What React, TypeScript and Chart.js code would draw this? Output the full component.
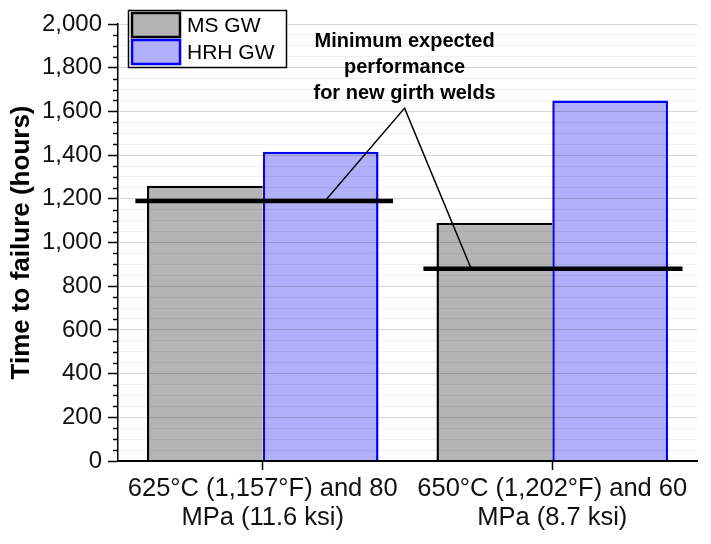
import { Chart, registerables } from "chart.js"
import React, { useEffect, useRef } from "react"

Chart.register(...registerables)

const categories = [
  ["625°C (1,157°F) and 80", "MPa (11.6 ksi)"],
  ["650°C (1,202°F) and 60", "MPa (8.7 ksi)"],
]
const msGW = [1260, 1090]
const hrhGW = [1415, 1650]
// minimum expected performance per condition, x extent in category index units
const minExpected = [1190, 880]
const minSpan = [
  [-0.44, 0.45],
  [0.555, 1.45],
]
// leader lines: first touch point, note apex, second touch point
const leaderX = [0.215, 0.49, 0.72]
const leaderY = [1190, 1615, 880]
const noteLines = ["Minimum expected", "performance", "for new girth welds"]
const legendLabels = ["MS GW", "HRH GW"]

const GREY = "#b4b4b4"
const LAVENDER = "#b0b0fb"
const BLUE = "#0000ff"
const FONT = "'Liberation Sans', Arial, sans-serif"

const overlays = {
  id: "overlays",
  afterDatasetsDraw(chart: Chart) {
    const ctx = chart.ctx
    const x = chart.scales.x
    const y = chart.scales.y
    ctx.save()
    ctx.strokeStyle = "#000"
    ctx.lineCap = "butt"

    // minimum expected performance lines
    ctx.lineWidth = 4.5
    minExpected.forEach((v, i) => {
      const py = y.getPixelForValue(v)
      ctx.beginPath()
      ctx.moveTo(x.getPixelForValue(minSpan[i][0]), py)
      ctx.lineTo(x.getPixelForValue(minSpan[i][1]), py)
      ctx.stroke()
    })

    // leader lines
    ctx.lineWidth = 1.5
    ctx.beginPath()
    leaderX.forEach((lx, i) => {
      const px = x.getPixelForValue(lx)
      const py = y.getPixelForValue(leaderY[i])
      if (i === 0) ctx.moveTo(px, py)
      else ctx.lineTo(px, py)
    })
    ctx.stroke()
    ctx.restore()
  },
  afterDraw(chart: Chart) {
    const ctx = chart.ctx
    const x = chart.scales.x
    const y = chart.scales.y
    const area = chart.chartArea
    ctx.save()

    // minor ticks on the y axis
    ctx.strokeStyle = "#000"
    ctx.lineWidth = 1.5
    for (let v = 50; v < 2000; v += 50) {
      if (v % 200 === 0) continue
      const py = Math.round(y.getPixelForValue(v)) + 0.5
      ctx.beginPath()
      ctx.moveTo(area.left - 5, py)
      ctx.lineTo(area.left, py)
      ctx.stroke()
    }

    // note text above the leader apex
    const ax = x.getPixelForValue(leaderX[1])
    const ay = y.getPixelForValue(leaderY[1])
    ctx.fillStyle = "#000"
    ctx.font = `bold 20px ${FONT}`
    ctx.textAlign = "center"
    ctx.textBaseline = "middle"
    noteLines.forEach((t, i) => {
      ctx.fillText(t, ax, ay - 15 - (noteLines.length - 1 - i) * 26)
    })

    // legend box
    ctx.fillStyle = "#fff"
    ctx.fillRect(128, 10, 159, 58)
    ctx.strokeStyle = "#000"
    ctx.lineWidth = 1.5
    ctx.strokeRect(128.5, 10.5, 158, 57)
    const sw = [
      { fill: GREY, stroke: "#000", y: 13 },
      { fill: LAVENDER, stroke: BLUE, y: 40 },
    ]
    sw.forEach((s, i) => {
      ctx.fillStyle = s.fill
      ctx.fillRect(132, s.y, 48, 24)
      ctx.strokeStyle = s.stroke
      ctx.lineWidth = 2.5
      ctx.strokeRect(132, s.y, 48, 24)
      ctx.fillStyle = "#000"
      ctx.font = `21px ${FONT}`
      ctx.textAlign = "left"
      ctx.textBaseline = "middle"
      ctx.fillText(legendLabels[i], 187, s.y + 13)
    })
    ctx.restore()
  },
}

const App: React.FC = () => {
  const chartRef = useRef<HTMLCanvasElement>(null)
  const chartInstanceRef = useRef<Chart | null>(null)

  useEffect(() => {
    const ctx = chartRef.current?.getContext("2d")
    if (!ctx) return

    chartInstanceRef.current = new Chart(ctx, {
      type: "bar",
      data: {
        labels: categories,
        datasets: [
          {
            label: legendLabels[0],
            data: msGW,
            backgroundColor: GREY,
            borderColor: "#000",
            borderWidth: { left: 2.5, top: 2.5, right: 0, bottom: 0 },
            borderSkipped: false,
            categoryPercentage: 0.8,
            barPercentage: 1,
          },
          {
            label: legendLabels[1],
            data: hrhGW,
            backgroundColor: LAVENDER,
            borderColor: BLUE,
            borderWidth: { left: 2.5, top: 2.5, right: 2.5, bottom: 0 },
            borderSkipped: false,
            categoryPercentage: 0.8,
            barPercentage: 1,
          },
        ] as any,
      },
      options: {
        animation: false,
        responsive: true,
        maintainAspectRatio: false,
        layout: { padding: { top: 24, right: 14, left: 0, bottom: 0 } },
        plugins: {
          legend: { display: false },
          tooltip: { enabled: false },
        },
        scales: {
          x: {
            type: "category",
            grid: {
              display: true,
              drawOnChartArea: false,
              offset: false,
              tickLength: 9,
              tickColor: "#000",
              tickWidth: 1.5,
            },
            border: { color: "#000", width: 2, z: 2 },
            ticks: {
              color: "#111",
              font: { family: FONT, size: 25.5, lineHeight: 1.12 },
              padding: 5,
              maxRotation: 0,
              autoSkip: false,
            },
            afterFit: (scale: any) => {
              scale.height = 83
            },
          },
          y: {
            min: 0,
            max: 2000,
            grid: {
              z: 1,
              color: (c: any) =>
                c.tick && c.tick.value % 200 === 0 ? "rgba(0,0,0,0.16)" : "rgba(0,0,0,0.06)",
              tickColor: (c: any) =>
                c.tick && c.tick.value % 200 === 0 ? "#000" : "rgba(0,0,0,0)",
              tickLength: 10,
              tickWidth: 1.5,
            },
            border: { color: "#000", width: 1.5, z: 2 },
            ticks: {
              stepSize: 50,
              autoSkip: false,
              color: "#111",
              padding: 6,
              font: { family: FONT, size: 24 },
              callback: (v: any) =>
                Number(v) % 200 === 0 ? Number(v).toLocaleString("en-US") : "",
            },
            title: {
              display: true,
              text: "Time to failure (hours)",
              color: "#000",
              font: { family: FONT, size: 26, weight: "bold" },
              padding: { top: 6, bottom: 0 },
            },
            afterFit: (scale: any) => {
              scale.width = 118
            },
          },
        },
      },
      plugins: [overlays],
    })

    return () => {
      chartInstanceRef.current?.destroy()
    }
  }, [])

  return (
    <div style={{ position: "absolute", left: 0, top: 0, width: 711, height: 544, background: "#fff" }}>
      <canvas ref={chartRef} />
    </div>
  )
}

export default App
